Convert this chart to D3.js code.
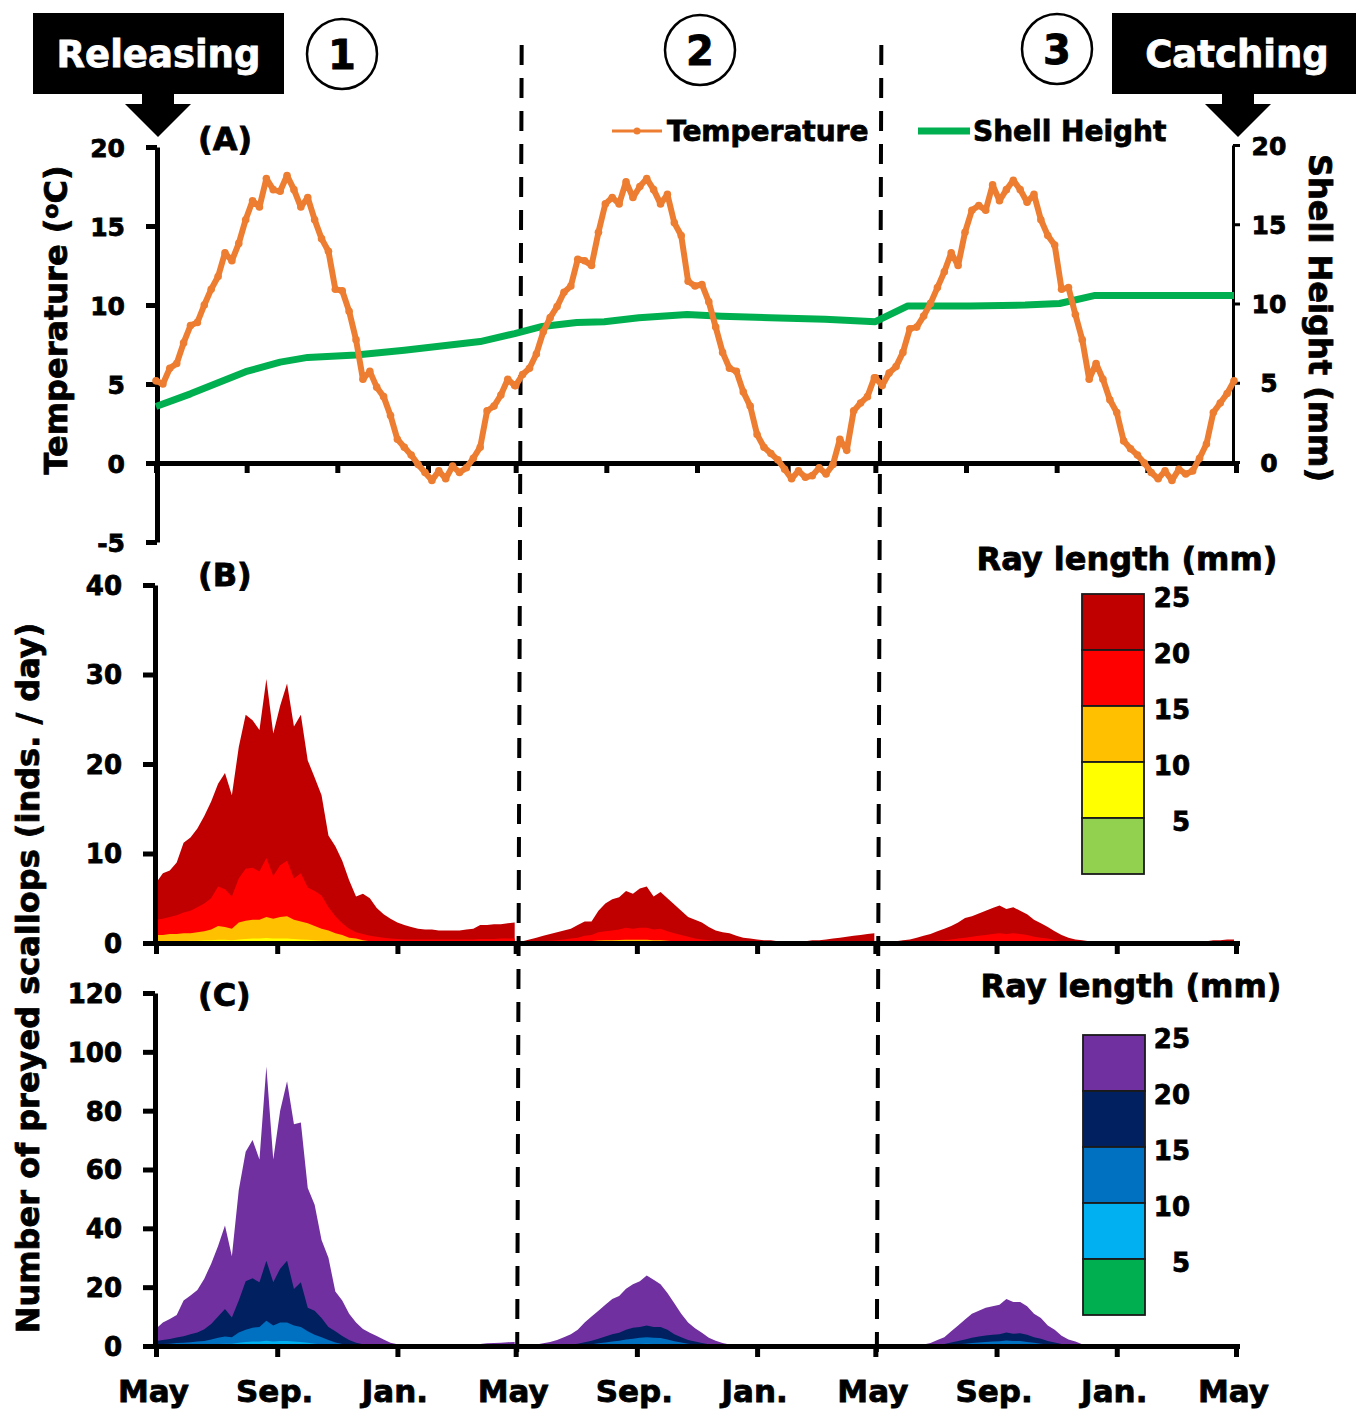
<!DOCTYPE html>
<html><head><meta charset="utf-8">
<script src="https://cdn.jsdelivr.net/npm/d3@7"></script>
<style>
body{margin:0;background:#fff}
text{font-family:"DejaVu Sans",sans-serif;font-weight:bold;stroke:#000;stroke-width:0.8px}
text.white{stroke:#fff}
</style>
</head><body>
<svg id="c" width="1356" height="1410"></svg>
<script>
// ---------------- DATA ----------------
const yearStartDays = [0, 365, 730];
const monthTickDaysA = [0, 92, 184, 276, 365, 457, 549, 641, 730, 822, 914, 1006, 1096];
const monthTickDaysBC = [0, 123, 245, 365, 488, 610, 730, 853, 975, 1096];
const monthTickLabels = ["May", "Sep.", "Jan.", "May", "Sep.", "Jan.", "May", "Sep.", "Jan.", "May"];
const tempTicks = [-5, 0, 5, 10, 15, 20];
const shellTicks = [0, 5, 10, 15, 20];
const bTicks = [0, 10, 20, 30, 40];
const cTicks = [0, 20, 40, 60, 80, 100, 120];
const sizeLabels = ["25", "20", "15", "10", "5"];
const bColors = ["#C00000", "#FF0000", "#FFC000", "#FFFF00", "#92D050"];
const cColors = ["#7030A0", "#002060", "#0070C0", "#00B0F0", "#00B050"];
const seriesNames = ["Temperature", "Shell Height"];

// weekly water temperature (degC), one array per year, day = yearStart + 7*j
const tempYear1 = [5.2,5.0,6.0,6.3,7.6,8.7,8.9,10.0,11.0,11.8,13.3,12.8,13.9,15.4,16.6,16.2,18.0,17.3,17.2,18.2,17.3,16.2,16.8,15.4,14.2,13.4,11.0,10.9,9.6,7.8,5.3,5.8,4.8,4.2,3.0,1.5,1.0,0.5,-0.1,-0.6,-1.1,-0.5,-1.0,-0.2,-0.6,-0.3,0.3,1.0,3.3,3.6,4.3,5.3,4.9];
const tempYear2 = [4.9,5.6,6.0,6.9,8.3,9.2,9.9,10.8,11.2,12.9,12.8,12.5,14.6,16.4,16.8,16.4,17.8,16.8,17.5,18.0,17.3,16.4,17.0,15.2,14.4,11.5,11.2,11.3,10.2,8.6,7.0,6.0,5.8,4.5,3.6,1.8,1.0,0.6,0.2,-0.4,-1.0,-0.5,-0.9,-0.8,-0.3,-0.7,-0.1,1.5,0.8,3.3,3.8,4.2,5.4];
const tempYear3 = [5.4,4.9,5.7,6.1,7.0,8.5,8.6,9.3,10.1,11.1,12.1,13.3,12.5,14.6,16.0,16.3,16.0,17.6,16.6,17.3,17.9,17.3,16.5,17.0,15.4,14.4,13.8,11.0,11.1,9.4,7.8,5.3,6.3,5.3,4.0,3.2,1.4,0.9,0.5,0.0,-0.6,-1.0,-0.5,-1.1,-0.4,-0.7,-0.5,0.3,1.2,3.2,3.8,4.4,5.2];

// shell height (mm)
const shellDay = [0,35,63,91,126,154,203,252,329,364,392,427,455,490,539,574,623,679,730,763,826,882,917,952,1094];
const shellHeight = [3.5,4.3,5.0,5.7,6.3,6.6,6.75,7.05,7.6,8.1,8.55,8.8,8.85,9.1,9.3,9.2,9.1,9.0,8.85,9.85,9.85,9.9,10.0,10.5,10.5];

// Panel B: cumulative preyed scallops/day with ray length <= 25,20,15,10,5 mm (weekly, per year)
const bUpTo25 = [
 [6.7,7.8,8.1,9.0,11.2,11.8,12.8,14.2,15.8,17.8,19.0,16.5,21.9,25.5,24.9,23.8,29.5,23.4,26.5,29.0,24.2,25.5,20.4,18.5,16.5,12.0,10.8,9.2,7.0,5.2,5.5,5.0,3.9,3.2,2.7,2.3,2.0,1.8,1.6,1.5,1.5,1.4,1.4,1.4,1.4,1.5,1.6,2.0,2.0,2.1,2.1,2.2,2.3],
 [0.1,0.2,0.4,0.6,0.8,1.0,1.2,1.4,1.6,2.0,2.4,2.4,3.6,4.4,4.9,5.1,5.8,5.5,6.1,6.3,5.2,5.7,5.0,4.3,3.6,2.9,2.6,2.3,1.8,1.4,1.2,1.1,0.8,0.6,0.5,0.4,0.3,0.3,0.2,0.2,0.2,0.2,0.2,0.3,0.3,0.4,0.5,0.6,0.7,0.8,0.9,1.0,1.1],
 [0.05,0.1,0.1,0.2,0.3,0.4,0.6,0.8,1.0,1.3,1.6,1.9,2.3,2.8,3.0,3.3,3.6,3.9,4.2,3.8,4.0,3.6,3.2,2.6,2.2,1.8,1.3,0.9,0.6,0.4,0.3,0.2,0.1,0.1,0.1,0.1,0.1,0.1,0.1,0.1,0.1,0.1,0.1,0.15,0.15,0.15,0.15,0.2,0.2,0.3,0.3,0.4,0.4]
];
const bUpTo20 = [
 [2.6,2.7,2.9,3.1,3.4,3.6,4.0,4.4,5.0,6.3,6.0,5.2,7.2,8.3,8.4,8.0,9.5,7.5,8.7,9.2,7.2,7.8,6.2,5.8,5.3,4.0,3.0,2.2,1.6,1.2,1.0,0.8,0.7,0.6,0.5,0.45,0.4,0.4,0.4,0.4,0.4,0.4,0.4,0.4,0.4,0.4,0.4,0.45,0.45,0.45,0.5,0.5,0.5],
 [0.05,0.1,0.1,0.15,0.2,0.25,0.3,0.4,0.5,0.6,0.8,0.9,1.2,1.3,1.4,1.5,1.7,1.6,1.7,1.7,1.5,1.6,1.3,1.1,0.9,0.7,0.5,0.4,0.3,0.2,0.15,0.1,0.1,0.1,0.1,0.1,0.1,0.1,0.1,0.1,0.1,0.1,0.1,0.1,0.1,0.1,0.1,0.1,0.1,0.1,0.1,0.1,0.1],
 [0.02,0.03,0.04,0.05,0.07,0.1,0.15,0.18,0.2,0.25,0.3,0.4,0.5,0.6,0.7,0.8,0.9,1.0,1.1,1.0,1.1,1.0,0.9,0.7,0.6,0.5,0.3,0.2,0.1,0.05,0.05,0.05,0.05,0.05,0.05,0.05,0.05,0.05,0.05,0.05,0.05,0.05,0.05,0.05,0.05,0.05,0.05,0.05,0.05,0.05,0.05,0.05,0.05]
];
const bUpTo15 = [
 [0.9,0.9,1.0,1.0,1.1,1.1,1.2,1.3,1.5,1.9,1.8,1.6,2.3,2.5,2.6,2.6,2.9,2.7,2.9,3.0,2.6,2.4,2.2,1.9,1.6,1.4,1.1,0.9,0.6,0.5,0.3,0.2,0.1,0.1,0.1,0.1,0.1,0.1,0.1,0.1,0.1,0.1,0.1,0.1,0.1,0.1,0.1,0.1,0.1,0.1,0.1,0.1,0.1],
 [0.02,0.03,0.04,0.05,0.06,0.07,0.08,0.1,0.12,0.15,0.2,0.22,0.28,0.3,0.32,0.33,0.36,0.35,0.36,0.35,0.3,0.3,0.25,0.2,0.15,0.1,0.08,0.06,0.05,0.04,0.04,0.04,0.04,0.04,0.04,0.04,0.04,0.04,0.04,0.04,0.04,0.04,0.04,0.04,0.04,0.04,0.04,0.04,0.04,0.04,0.04,0.04,0.04],
 [0.01,0.01,0.01,0.02,0.02,0.03,0.04,0.05,0.06,0.07,0.08,0.1,0.11,0.12,0.13,0.14,0.15,0.15,0.16,0.15,0.15,0.14,0.12,0.1,0.08,0.06,0.04,0.03,0.02,0.02,0.02,0.02,0.02,0.02,0.02,0.02,0.02,0.02,0.02,0.02,0.02,0.02,0.02,0.02,0.02,0.02,0.02,0.02,0.02,0.02,0.02,0.02,0.02]
];
const bUpTo10 = [
 [0.2,0.2,0.2,0.2,0.2,0.25,0.25,0.3,0.3,0.35,0.35,0.3,0.4,0.45,0.5,0.5,0.55,0.5,0.5,0.5,0.45,0.4,0.35,0.3,0.25,0.2,0.15,0.1,0.08,0.05,0.03,0.03,0.03,0.03,0.03,0.03,0.03,0.03,0.03,0.03,0.03,0.03,0.03,0.03,0.03,0.03,0.03,0.03,0.03,0.03,0.03,0.03,0.03],
 [0.01,0.01,0.01,0.01,0.01,0.01,0.01,0.01,0.01,0.01,0.01,0.01,0.01,0.01,0.01,0.02,0.03,0.03,0.03,0.03,0.02,0.02,0.01,0.01,0.01,0.01,0.01,0.01,0.01,0.01,0.01,0.01,0.01,0.01,0.01,0.01,0.01,0.01,0.01,0.01,0.01,0.01,0.01,0.01,0.01,0.01,0.01,0.01,0.01,0.01,0.01,0.01,0.01],
 [0.01,0.01,0.01,0.01,0.01,0.01,0.01,0.01,0.01,0.01,0.01,0.01,0.01,0.01,0.01,0.01,0.01,0.01,0.01,0.01,0.01,0.01,0.01,0.01,0.01,0.01,0.01,0.01,0.01,0.01,0.01,0.01,0.01,0.01,0.01,0.01,0.01,0.01,0.01,0.01,0.01,0.01,0.01,0.01,0.01,0.01,0.01,0.01,0.01,0.01,0.01,0.01,0.01]
];
const bUpTo5 = [
 [0,0,0,0,0,0,0,0,0,0,0,0,0,0,0,0,0,0,0,0,0,0,0,0,0,0,0,0,0,0,0,0,0,0,0,0,0,0,0,0,0,0,0,0,0,0,0,0,0,0,0,0,0],
 [0,0,0,0,0,0,0,0,0,0,0,0,0,0,0,0,0,0,0,0,0,0,0,0,0,0,0,0,0,0,0,0,0,0,0,0,0,0,0,0,0,0,0,0,0,0,0,0,0,0,0,0,0],
 [0,0,0,0,0,0,0,0,0,0,0,0,0,0,0,0,0,0,0,0,0,0,0,0,0,0,0,0,0,0,0,0,0,0,0,0,0,0,0,0,0,0,0,0,0,0,0,0,0,0,0,0,0]
];

// Panel C
const cUpTo25 = [
 [5.9,8.0,9.2,10.5,15.5,17.2,19.0,22.9,28.0,34.0,41.0,30.5,53.0,66.0,70.0,63.4,95.0,63.4,80.0,90.0,75.4,76.0,53.7,48.0,36.0,30.0,18.5,15.5,11.0,8.0,5.8,4.5,3.4,2.2,1.1,0.6,0.3,0.1,0.1,0.1,0.1,0.1,0.1,0.1,0.1,0.2,0.3,0.7,0.9,1.0,1.1,1.3,1.4],
 [0.1,0.1,0.2,0.5,0.9,1.4,2.0,3.0,4.0,5.5,8.0,10.0,12.0,14.0,16.0,17.0,19.5,21.0,22.0,24.0,22.5,21.0,18.0,14.5,11.0,8.0,6.0,4.5,2.8,1.8,1.0,0.5,0.3,0.2,0.1,0.1,0.1,0.1,0.1,0.1,0.1,0.1,0.1,0.1,0.1,0.1,0.1,0.1,0.1,0.1,0.1,0.1,0.1],
 [0.05,0.05,0.05,0.05,0.05,0.05,0.2,0.5,1.0,2.0,3.0,5.0,7.0,9.0,11.0,12.0,13.0,13.5,14.0,16.0,15.0,15.0,13.5,11.0,9.5,7.0,5.5,3.5,2.2,1.5,0.6,0.3,0.1,0.05,0.05,0.05,0.05,0.05,0.05,0.05,0.05,0.05,0.05,0.05,0.05,0.05,0.05,0.05,0.05,0.05,0.05,0.05,0.05]
];
const cUpTo20 = [
 [1.7,2.0,2.4,2.9,3.3,4.0,4.6,5.7,7.5,10.0,12.6,9.7,15.5,22.0,23.0,21.7,29.0,21.7,26.3,29.0,19.4,21.7,13.0,12.0,9.5,6.5,5.0,3.4,2.0,1.1,0.6,0.3,0.1,0.1,0.1,0.1,0.1,0.1,0.1,0.1,0.1,0.1,0.1,0.1,0.1,0.1,0.1,0.15,0.2,0.2,0.2,0.2,0.2],
 [0.05,0.05,0.05,0.05,0.05,0.05,0.1,0.3,0.5,0.8,1.3,1.8,2.5,3.2,4.0,4.5,5.5,6.2,6.5,7.0,6.5,6.5,5.5,4.0,3.0,2.0,1.5,1.0,0.6,0.4,0.2,0.1,0.05,0.05,0.05,0.05,0.05,0.05,0.05,0.05,0.05,0.05,0.05,0.05,0.05,0.05,0.05,0.05,0.05,0.05,0.05,0.05,0.05],
 [0.02,0.02,0.02,0.02,0.02,0.02,0.02,0.02,0.2,0.4,0.7,1.2,1.7,2.2,2.8,3.2,3.6,3.8,4.0,4.6,4.2,4.3,3.8,3.0,2.5,1.7,1.2,0.7,0.4,0.2,0.1,0.02,0.02,0.02,0.02,0.02,0.02,0.02,0.02,0.02,0.02,0.02,0.02,0.02,0.02,0.02,0.02,0.02,0.02,0.02,0.02,0.02,0.02]
];
const cUpTo15 = [
 [0.6,0.7,0.8,1.0,1.1,1.3,1.5,1.7,2.2,2.8,3.2,3.0,4.6,5.5,6.2,6.5,8.6,7.0,8.0,8.0,7.0,6.5,5.0,3.8,3.0,2.0,1.2,0.7,0.4,0.2,0.1,0.05,0.05,0.05,0.05,0.05,0.05,0.05,0.05,0.05,0.05,0.05,0.05,0.05,0.05,0.05,0.05,0.05,0.05,0.05,0.05,0.05,0.05],
 [0.02,0.02,0.02,0.02,0.02,0.02,0.02,0.02,0.1,0.2,0.4,0.6,0.9,1.2,1.5,1.8,2.2,2.5,2.8,3.0,2.8,2.7,2.2,1.6,1.2,0.8,0.5,0.3,0.15,0.02,0.02,0.02,0.02,0.02,0.02,0.02,0.02,0.02,0.02,0.02,0.02,0.02,0.02,0.02,0.02,0.02,0.02,0.02,0.02,0.02,0.02,0.02,0.02],
 [0.01,0.01,0.01,0.01,0.01,0.01,0.01,0.01,0.01,0.01,0.2,0.4,0.6,0.8,1.0,1.2,1.4,1.5,1.6,1.9,1.7,1.7,1.4,1.1,0.8,0.5,0.3,0.15,0.01,0.01,0.01,0.01,0.01,0.01,0.01,0.01,0.01,0.01,0.01,0.01,0.01,0.01,0.01,0.01,0.01,0.01,0.01,0.01,0.01,0.01,0.01,0.01,0.01]
];
const cUpTo10 = [
 [0.2,0.2,0.25,0.3,0.3,0.35,0.4,0.45,0.6,0.7,0.8,0.8,1.1,1.4,1.5,1.5,1.8,1.5,1.7,1.7,1.5,1.4,1.1,0.8,0.6,0.4,0.3,0.2,0.1,0.05,0.02,0.02,0.02,0.02,0.02,0.02,0.02,0.02,0.02,0.02,0.02,0.02,0.02,0.02,0.02,0.02,0.02,0.02,0.02,0.02,0.02,0.02,0.02],
 [0.01,0.01,0.01,0.01,0.01,0.01,0.01,0.01,0.01,0.01,0.01,0.01,0.1,0.2,0.3,0.4,0.5,0.6,0.7,0.8,0.7,0.6,0.5,0.3,0.2,0.1,0.01,0.01,0.01,0.01,0.01,0.01,0.01,0.01,0.01,0.01,0.01,0.01,0.01,0.01,0.01,0.01,0.01,0.01,0.01,0.01,0.01,0.01,0.01,0.01,0.01,0.01,0.01],
 [0.01,0.01,0.01,0.01,0.01,0.01,0.01,0.01,0.01,0.01,0.01,0.01,0.01,0.1,0.2,0.3,0.35,0.4,0.45,0.5,0.45,0.4,0.3,0.2,0.1,0.01,0.01,0.01,0.01,0.01,0.01,0.01,0.01,0.01,0.01,0.01,0.01,0.01,0.01,0.01,0.01,0.01,0.01,0.01,0.01,0.01,0.01,0.01,0.01,0.01,0.01,0.01,0.01]
];
const cUpTo5 = [
 [0,0,0,0,0,0,0,0,0,0,0,0,0,0,0,0,0,0,0,0,0,0,0,0,0,0,0,0,0,0,0,0,0,0,0,0,0,0,0,0,0,0,0,0,0,0,0,0,0,0,0,0,0],
 [0,0,0,0,0,0,0,0,0,0,0,0,0,0,0,0,0,0,0,0,0,0,0,0,0,0,0,0,0,0,0,0,0,0,0,0,0,0,0,0,0,0,0,0,0,0,0,0,0,0,0,0,0],
 [0,0,0,0,0,0,0,0,0,0,0,0,0,0,0,0,0,0,0,0,0,0,0,0,0,0,0,0,0,0,0,0,0,0,0,0,0,0,0,0,0,0,0,0,0,0,0,0,0,0,0,0,0]
];

// ---------------- DRAWING ----------------
const svg = d3.select("#c");
const x = d3.scaleLinear().domain([0, 1096]).range([156, 1236]);
const yTemp = d3.scaleLinear().domain([-5, 20]).range([542, 147]);
const yShell = d3.scaleLinear().domain([0, 20]).range([462, 145]);
const yB = d3.scaleLinear().domain([0, 40]).range([943, 585]);
const yC = d3.scaleLinear().domain([0, 120]).range([1346, 993]);
const ORANGE = "#ED7D31", GREEN = "#00B050";
const plain = d => String(d);

// stacked areas (drawn back to front from the cumulative totals)
function drawStack(layers, colors, yS) {
  const g = svg.append("g");
  layers.forEach((cum, li) => {
    cum.forEach((vals, k) => {
      const area = d3.area()
        .x((v, j) => x(yearStartDays[k] + 7 * j))
        .y0(yS(0))
        .y1(v => yS(v));
      g.append("path").attr("d", area(vals)).attr("fill", colors[li]);
    });
  });
}
drawStack([bUpTo25, bUpTo20, bUpTo15, bUpTo10, bUpTo5], bColors, yB);
drawStack([cUpTo25, cUpTo20, cUpTo15, cUpTo10, cUpTo5], cColors, yC);

// dashed separators
[365, 730].forEach(d => {
  svg.append("line").attr("x1", x(d) + 6).attr("y1", 45).attr("x2", x(d) + 1.5).attr("y2", 1360)
    .attr("stroke", "#000").attr("stroke-width", 4).attr("stroke-dasharray", "20,13");
});

function styleAxis(g, w, fs) {
  g.attr("font-size", fs).attr("fill", "#000");
  g.select(".domain").attr("stroke", "#000").attr("stroke-width", w);
  g.selectAll(".tick line").attr("stroke", "#000").attr("stroke-width", w);
  g.selectAll(".tick text").attr("fill", "#000");
}

// Panel A axes
const gAx = svg.append("g").attr("transform", `translate(0,${yTemp(0)})`)
  .call(d3.axisBottom(x).tickValues(monthTickDaysA).tickSize(10).tickSizeOuter(0).tickFormat(""));
styleAxis(gAx, 5, 25);
const gAy = svg.append("g").attr("transform", `translate(${x(0) + 1},0)`)
  .call(d3.axisLeft(yTemp).tickValues(tempTicks).tickSize(11).tickSizeOuter(0).tickPadding(21).tickFormat(plain));
styleAxis(gAy, 5, 25);
gAy.selectAll(".tick text").attr("dy", "0.36em");
const gAr = svg.append("g").attr("transform", `translate(1233,0)`)
  .call(d3.axisRight(yShell).tickValues(shellTicks).tickSize(7).tickSizeOuter(0).tickFormat(plain));
styleAxis(gAr, 3, 25);
gAr.selectAll(".tick text").attr("x", 36).attr("text-anchor", "middle").attr("dy", "0.36em");

// shell height line
svg.append("path")
  .datum(shellDay.map((d, i) => ({ d, v: shellHeight[i] })))
  .attr("d", d3.line().x(p => x(p.d)).y(p => yShell(p.v)))
  .attr("fill", "none").attr("stroke", GREEN).attr("stroke-width", 7).attr("stroke-linejoin", "round");

// temperature line
const tempPts = [tempYear1, tempYear2, tempYear3].flatMap((arr, k) =>
  arr.map((t, j) => ({ d: yearStartDays[k] + 7 * j, t })));
svg.append("path").datum(tempPts)
  .attr("d", d3.line().x(p => x(p.d)).y(p => yTemp(p.t)))
  .attr("fill", "none").attr("stroke", ORANGE).attr("stroke-width", 6).attr("stroke-linejoin", "round");
svg.append("g").selectAll("circle").data(tempPts).join("circle")
  .attr("cx", p => x(p.d)).attr("cy", p => yTemp(p.t)).attr("r", 3.8).attr("fill", ORANGE);

// Panel B axes
const gBx = svg.append("g").attr("transform", `translate(0,${yB(0)})`)
  .call(d3.axisBottom(x).tickValues(monthTickDaysBC).tickSize(11).tickSizeOuter(0).tickFormat(""));
styleAxis(gBx, 5, 25);
gBx.select(".domain").attr("d", `M${x(0) - 8},0.5H${x(1096) + 4}`);
const gBy = svg.append("g").attr("transform", `translate(${x(0) - 1},0)`)
  .call(d3.axisLeft(yB).tickValues(bTicks).tickSize(12).tickSizeOuter(0).tickPadding(21).tickFormat(plain));
styleAxis(gBy, 5, 26);
gBy.selectAll(".tick text").attr("dy", "0.36em");

// Panel C axes
const gCx = svg.append("g").attr("transform", `translate(0,${yC(0)})`)
  .call(d3.axisBottom(x).tickValues(monthTickDaysBC).tickSize(11).tickSizeOuter(0)
    .tickFormat((d, i) => monthTickLabels[i]));
styleAxis(gCx, 5, 31);
gCx.select(".domain").attr("d", `M${x(0) - 8},0.5H${x(1096) + 4}`);
gCx.selectAll(".tick text").attr("y", 56).attr("dy", 0).attr("x", -3);
const gCy = svg.append("g").attr("transform", `translate(${x(0) - 1},0)`)
  .call(d3.axisLeft(yC).tickValues(cTicks).tickSize(12).tickSizeOuter(0).tickPadding(21).tickFormat(plain));
styleAxis(gCy, 5, 26);
gCy.selectAll(".tick text").attr("dy", "0.36em");

// axis titles
const tt = svg.append("text").attr("transform", "translate(67,320) rotate(-90)")
  .attr("text-anchor", "middle").attr("font-size", 32);
tt.append("tspan").text("Temperature  (");
tt.append("tspan").attr("font-size", 22).attr("dy", -9).text("o");
tt.append("tspan").attr("dy", 9).text("C)");
svg.append("text").attr("transform", "translate(1309,318) rotate(90)")
  .attr("text-anchor", "middle").attr("font-size", 32).text("Shell Height (mm)");
svg.append("text").attr("transform", "translate(39,978) rotate(-90)")
  .attr("text-anchor", "middle").attr("font-size", 32).text("Number of preyed scallops (inds. / day)");

// panel labels
[["(A)", 150], ["(B)", 586], ["(C)", 1006]].forEach(([lbl, yy]) =>
  svg.append("text").attr("x", 198).attr("y", yy).attr("font-size", 32).text(lbl));

// panel A legend
svg.append("line").attr("x1", 612).attr("x2", 662).attr("y1", 131).attr("y2", 131)
  .attr("stroke", ORANGE).attr("stroke-width", 3);
svg.append("circle").attr("cx", 637).attr("cy", 131).attr("r", 3.5).attr("fill", ORANGE);
svg.append("text").attr("x", 667).attr("y", 141).attr("font-size", 28).text(seriesNames[0]);
svg.append("line").attr("x1", 918).attr("x2", 970).attr("y1", 131).attr("y2", 131)
  .attr("stroke", GREEN).attr("stroke-width", 7);
svg.append("text").attr("x", 973).attr("y", 141).attr("font-size", 28).text(seriesNames[1]);

// ray length legends
function rayLegend(x0, top, titleX, titleY, colors) {
  svg.append("text").attr("x", titleX).attr("y", titleY).attr("text-anchor", "middle")
    .attr("font-size", 32).text("Ray length (mm)");
  const g = svg.append("g");
  g.selectAll("rect").data(colors).join("rect")
    .attr("x", x0).attr("y", (c, i) => top + i * 56).attr("width", 62).attr("height", 56)
    .attr("fill", c => c).attr("stroke", "#1a1a1a").attr("stroke-width", 1.8);
  g.selectAll("text").data(sizeLabels).join("text")
    .attr("x", 1190).attr("y", (s, i) => top + i * 56 + 3 + 9.5).attr("text-anchor", "end")
    .attr("font-size", 26).text(s => s);
}
rayLegend(1082, 594, 1127, 570, bColors);
rayLegend(1083, 1035, 1131, 997, cColors);

// header: Releasing / Catching and period numbers
function banner(bx, bw, label, tx, tipX) {
  svg.append("rect").attr("x", bx).attr("y", 13).attr("width", bw).attr("height", 81).attr("fill", "#000");
  svg.append("text").attr("class", "white").attr("x", tx).attr("y", 67).attr("text-anchor", "middle")
    .attr("font-size", 37).attr("fill", "#fff").text(label);
  svg.append("rect").attr("x", tipX - 16).attr("y", 93).attr("width", 32).attr("height", 12).attr("fill", "#000");
  svg.append("path").attr("d", `M${tipX - 33},104L${tipX + 33},104L${tipX},137Z`).attr("fill", "#000");
}
banner(33, 251, "Releasing", 158.5, 158);
banner(1112, 250, "Catching", 1237, 1238);

[["1", 342, 54], ["2", 700, 50], ["3", 1057, 49]].forEach(([num, cx, cy]) => {
  svg.append("circle").attr("cx", cx).attr("cy", cy).attr("r", 35)
    .attr("fill", "#fff").attr("stroke", "#000").attr("stroke-width", 2.5);
  svg.append("text").attr("x", cx).attr("y", cy + 14.5).attr("text-anchor", "middle")
    .attr("font-size", 40).text(num);
});
</script>
</body></html>
